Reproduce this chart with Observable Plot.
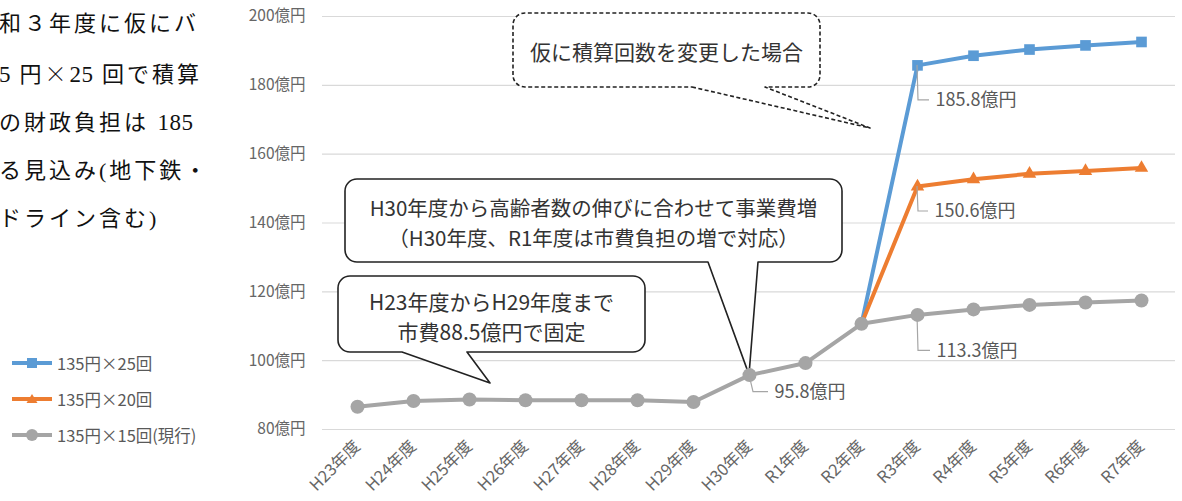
<!DOCTYPE html>
<html>
<head>
<meta charset="utf-8">
<script src="https://cdn.jsdelivr.net/npm/d3@7"></script>
<script src="https://cdn.jsdelivr.net/npm/@observablehq/plot@0.6"></script>
<style>
  body { margin: 0; background: #fff; }
  #wrap { position: relative; width: 1182px; height: 501px; overflow: hidden; font-family: "Noto Sans CJK JP", sans-serif; background:#fff; }
  #para { position: absolute; left: -1px; top: 0px; font-family: "Liberation Serif", "Noto Sans CJK JP", serif; font-size: 22px; line-height: 48px; letter-spacing: 3px; color: #111; white-space: nowrap; }
  #para .n { letter-spacing: 0.5px; font-size: 23px; }
  #para .c { font-family: "Noto Sans CJK JP", sans-serif; font-weight: 300; }
  #chart { position: absolute; left: 0; top: 0; }
  #legend { position: absolute; left: 12px; top: 345px; font-size: 16.5px; color: #595959; }
  .item { display: flex; align-items: center; height: 36px; }
  .item svg { margin-right: 4px; }
</style>
</head>
<body>
<div id="wrap">
  <div id="para"></div>
  <div id="chart"></div>
  <div id="legend"></div>
</div>
<script>
// ---- data ----
const categories = ["H23年度","H24年度","H25年度","H26年度","H27年度","H28年度","H29年度","H30年度","R1年度","R2年度","R3年度","R4年度","R5年度","R6年度","R7年度"];
const seriesNames = ["135円×25回", "135円×20回", "135円×15回(現行)"];
const times25 = [null,null,null,null,null,null,null,null,null,110.7,185.8,188.6,190.4,191.6,192.6];
const times20 = [null,null,null,null,null,null,null,null,null,110.7,150.6,152.7,154.3,155.1,156.0];
const times15 = [86.6,88.3,88.7,88.5,88.5,88.5,88.0,95.8,99.3,110.7,113.3,114.9,116.2,116.9,117.5];
const yTicks = [80,100,120,140,160,180,200];
const paragraph = ["和３年度に仮にバ","5 円×25 回で積算","の財政負担は 185","る見込み(地下鉄・","ドライン含む)"];
const calloutTexts = {
  dashed: ["仮に積算回数を変更した場合"],
  h30: ["H30年度から高齢者数の伸びに合わせて事業費増","（H30年度、R1年度は市費負担の増で対応）"],
  h23: ["H23年度からH29年度まで","市費88.5億円で固定"]
};
// labelled points: [series index, category]
const labelled = [[0,"R3年度"],[1,"R3年度"],[2,"R3年度"],[2,"H30年度"]];

// ---- styles / layout ----
const colors = ["#5B9BD5", "#ED7D31", "#A5A5A5"];
const allSeries = [times25, times20, times15];
const toRows = (arr, s) => arr.map((v,i)=>({cat: categories[i], value: v, series: s})).filter(d=>d.value!=null);
const rows = allSeries.map((a,s)=>toRows(a,s));
const labelOffsets = {"0|R3年度":[18,35],"1|R3年度":[17,25],"2|R3年度":[19,36],"2|H30年度":[25,17]};
const labels = labelled.map(([s,c]) => {
  const v = allSeries[s][categories.indexOf(c)];
  const off = labelOffsets[s+"|"+c];
  return {cat:c, value:v, text: v.toFixed(1)+"億円", dx: off[0], dy: off[1]};
});

// paragraph: half-width digits tighter, × in CJK glyph
const fmtLine = t => t.replace(/([0-9]+)/g, '<span class="n">$1</span>').replace(/×/g, '<span class="c">×</span>');
document.getElementById("para").innerHTML = paragraph.map(t=>`<div>${fmtLine(t)}</div>`).join("");

// legend
document.getElementById("legend").innerHTML = seriesNames.map((n,i)=>{
  let m;
  if (i===0) m = `<rect x="15" y="2" width="10" height="10" fill="${colors[i]}"/>`;
  else if (i===1) m = `<path d="M20,2 L25.5,11 L14.5,11 Z" fill="${colors[i]}"/>`;
  else m = `<circle cx="20" cy="7" r="6" fill="${colors[i]}"/>`;
  return `<div class="item"><svg width="41" height="14"><line x1="0" x2="40" y1="7" y2="7" stroke="${colors[i]}" stroke-width="4"/>${m}</svg><span>${n}</span></div>`;
}).join("");

function calloutPath(x0,y0,x1,y1,r,b0,b1,tx,ty){
  return `M${b0},${y1} L${tx},${ty} L${b1},${y1} H${x1-r} A${r},${r} 0 0 0 ${x1},${y1-r} V${y0+r} A${r},${r} 0 0 0 ${x1-r},${y0} H${x0+r} A${r},${r} 0 0 0 ${x0},${y0+r} V${y1-r} A${r},${r} 0 0 0 ${x0+r},${y1} Z`;
}

function calloutMark(index, scales) {
  const x = scales.x, y = scales.y;
  const g = d3.create("svg:g");
  const tipH30 = [x("H30年度"), y(times15[7])];
  const defs = [
    {box:[513,13,820,87], base:[692,765], tip:[870,128], dash:"4,2.5", lines: calloutTexts.dashed, lineY:[53], fs:21},
    {box:[345,179,842,262], base:[708,758], tip:tipH30, dash:null, lines: calloutTexts.h30, lineY:[209,239], fs:20.5},
    {box:[338,276,645,352], base:[402,467], tip:[490,383], dash:null, lines: calloutTexts.h23, lineY:[303,333], fs:21}
  ];
  for (const d of defs) {
    const [x0,y0,x1,y1] = d.box;
    g.append("path")
      .attr("d", calloutPath(x0,y0,x1,y1,12,d.base[0],d.base[1],d.tip[0],d.tip[1]))
      .attr("fill","#fff").attr("stroke","#222").attr("stroke-width",1.6)
      .attr("stroke-dasharray", d.dash).attr("stroke-linejoin","round");
    d.lines.forEach((t,i)=>{
      g.append("text").attr("x",(x0+x1)/2).attr("y",d.lineY[i]).attr("dy","0.35em")
        .attr("text-anchor","middle").attr("font-size",d.fs).attr("fill","#333").text(t);
    });
  }
  return g.node();
}

function leaderMark(index, scales) {
  const x = scales.x, y = scales.y;
  const g = d3.create("svg:g");
  for (const l of labels) {
    const px = x(l.cat), py = y(l.value);
    const slant = l.cat === "H30年度" ? 4 : 1;
    g.append("path")
      .attr("d", `M${px},${py} L${px+slant},${py+l.dy} H${px+l.dx-6}`)
      .attr("fill","none").attr("stroke","#a6a6a6").attr("stroke-width",1.2);
  }
  return g.node();
}

const chart = Plot.plot({
  width: 1182,
  height: 501,
  marginLeft: 322,
  marginRight: 7,
  marginTop: 16,
  marginBottom: 72,
  style: {fontFamily: "'Noto Sans CJK JP', sans-serif", fontSize: "15.5px", color: "#666", background: "transparent"},
  x: {type: "point", domain: categories, padding: 0.5, tickRotate: -45, tickSize: 0, tickPadding: 14, label: null},
  y: {domain: [80, 200], ticks: yTicks, tickFormat: d => d + "億円", tickSize: 0, tickPadding: 17, label: null},
  marks: [
    Plot.ruleY(yTicks, {stroke: "#d9d9d9", strokeWidth: 1.2}),
    calloutMark,
    Plot.line(rows[0], {x: "cat", y: "value", stroke: colors[0], strokeWidth: 4}),
    Plot.line(rows[1], {x: "cat", y: "value", stroke: colors[1], strokeWidth: 4}),
    Plot.line(rows[2], {x: "cat", y: "value", stroke: colors[2], strokeWidth: 4}),
    Plot.dot(rows[0].slice(1), {x: "cat", y: "value", symbol: "square", r: 6, fill: colors[0]}),
    Plot.dot(rows[1].slice(1), {x: "cat", y: "value", symbol: "triangle", r: 5, fill: colors[1]}),
    Plot.dot(rows[2], {x: "cat", y: "value", symbol: "circle", r: 7, fill: colors[2]}),
    leaderMark,
    Plot.text(labels, {x: "cat", y: "value", text: "text", textAnchor: "start", fill: "#595959", fontSize: 18})
  ]
});
document.getElementById("chart").appendChild(chart);
// x tick labels larger
d3.select(chart).selectAll("g[aria-label='x-axis tick label'] text, g[aria-label='x-axis'] text").attr("font-size", 16.5);
// per-label offsets
d3.select(chart).selectAll("g[aria-label='text'] text").each(function(d, i){
  const l = labels[i];
  const t = d3.select(this);
  t.attr("transform", (t.attr("transform")||"") + ` translate(${l.dx},${l.dy})`);
});
</script>
</body>
</html>
